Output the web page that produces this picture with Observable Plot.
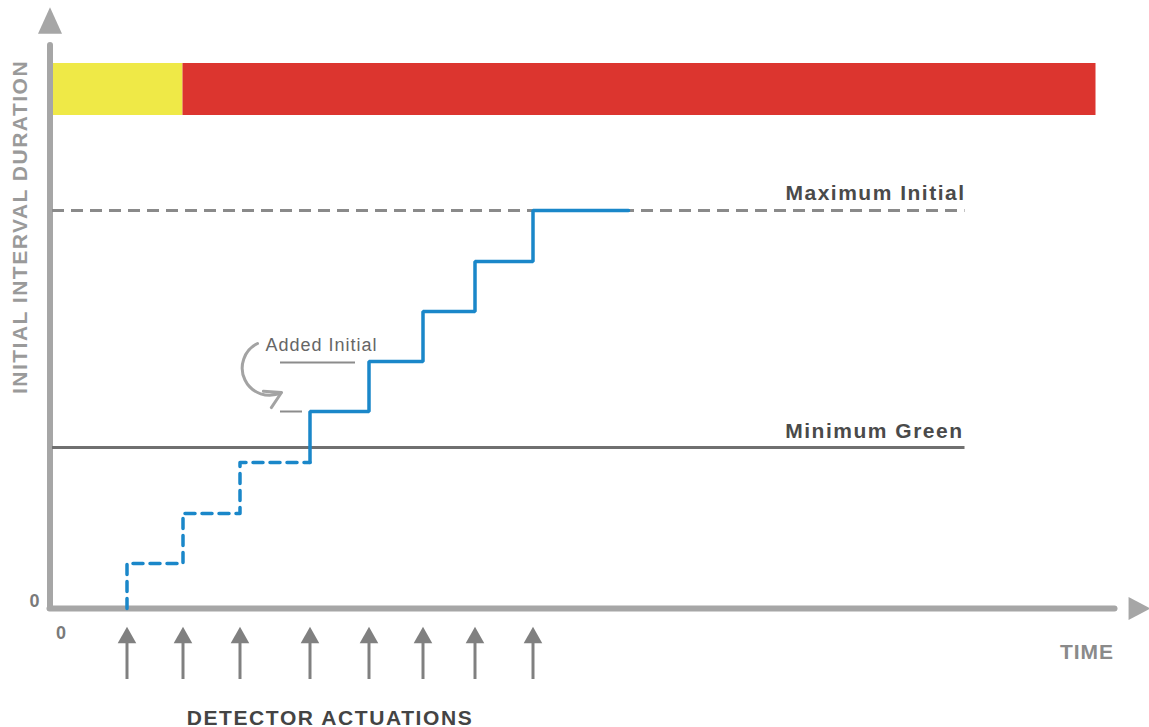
<!DOCTYPE html>
<html><head><meta charset="utf-8">
<script src="https://cdn.jsdelivr.net/npm/d3@7"></script>
<script src="https://cdn.jsdelivr.net/npm/@observablehq/plot@0.6"></script>
<style>html,body{margin:0;padding:0;background:#fff;} svg{display:block}</style>
</head><body><div id="chart"></div>
<script>
// ---- data (time units on x, duration units on y) ----
const actuations = [7.7, 13.3, 19.0, 26.0, 31.9, 37.3, 42.5, 48.3];
const initialLevels = [4.5, 9.5, 14.6, 19.7, 24.7, 29.7, 34.7, 39.8];
const minimumGreen = 16.1;
const maximumInitial = 39.8;
const maxHoldEnd = 57.85;
const referenceEnd = 91.5;
const phases = [
  {name: "yellow", start: 0.25, end: 13.3},
  {name: "red", start: 13.3, end: 104.6}
];
const phaseBand = [49.3, 54.5];
const addedInitialMarks = [
  {level: 19.7, start: 23.05, end: 25.25},
  {level: 24.6, start: 23.05, end: 30.55}
];
const addedInitialArrow = [{x1: 20.75, y1: 26.5, x2: 23.15, y2: 21.6}];
const yAxisTop = 56.3, xAxisEnd = 106.5;

const blue = "#1a87c9";
const font = "'Liberation Sans', Arial, Helvetica, sans-serif";

// step path: dashed while below minimum green, solid after
const firstSolid = initialLevels.findIndex(v => v > minimumGreen);
const dashed = [];
let prev = 0;
for (let i = 0; i < firstSolid; i++) {
  dashed.push({t: actuations[i], d: prev}, {t: actuations[i], d: initialLevels[i]});
  prev = initialLevels[i];
}
dashed.push({t: actuations[firstSolid], d: prev});
const solid = [];
for (let i = firstSolid; i < actuations.length; i++) {
  solid.push({t: actuations[i], d: prev}, {t: actuations[i], d: initialLevels[i]});
  prev = initialLevels[i];
}
solid.push({t: maxHoldEnd, d: prev});

function arrowHead(ratio) {
  return {draw(ctx, size) {
    const r = Math.sqrt(size / Math.PI), h = r * ratio;
    ctx.moveTo(0, -h); ctx.lineTo(r, h); ctx.lineTo(-r, h); ctx.closePath();
  }};
}

const chart = Plot.plot({
  width: 1149, height: 727, margin: 0,
  x: {domain: [0, 105], range: [49.5, 1099.5], axis: null},
  y: {domain: [0, 55], range: [608, 58], axis: null},
  style: {fontFamily: font, background: "#fff"},
  marks: [
    Plot.rect(phases, {x1: "start", x2: "end", y1: phaseBand[0], y2: phaseBand[1],
      fill: d => d.name === "yellow" ? "#efe947" : "#dc352f"}),
    // axes
    Plot.ruleX([0], {y1: 0, y2: yAxisTop, stroke: "#a6a6a6", strokeWidth: 6, strokeLinecap: "round"}),
    Plot.ruleY([0], {x1: 0, x2: xAxisEnd, stroke: "#a6a6a6", strokeWidth: 6, strokeLinecap: "round"}),
    Plot.dot([{x: 0, y: 58.8}], {x: "x", y: "y", r: 12, symbol: arrowHead(1.1), fill: "#a6a6a6", stroke: null}),
    Plot.dot([{x: 108.95, y: 0}], {x: "x", y: "y", r: 11.5, symbol: arrowHead(0.95), rotate: 90, fill: "#a6a6a6", stroke: null}),
    // reference lines
    Plot.ruleY([maximumInitial], {x1: 0.25, x2: referenceEnd, stroke: "#8a8a8a", strokeWidth: 3, strokeDasharray: "12,7"}),
    Plot.ruleY([minimumGreen], {x1: 0.25, x2: referenceEnd, stroke: "#707070", strokeWidth: 3}),
    // steps
    Plot.line(dashed, {x: "t", y: "d", stroke: blue, strokeWidth: 3.5, strokeDasharray: "10,7"}),
    Plot.line(solid, {x: "t", y: "d", stroke: blue, strokeWidth: 3.5, strokeLinejoin: "miter"}),
    // added initial annotation
    Plot.ruleY(addedInitialMarks, {y: "level", x1: "start", x2: "end", stroke: "#8c8c8c", strokeWidth: 2}),
    Plot.arrow(addedInitialArrow, {x1: "x1", y1: "y1", x2: "x2", y2: "y2", bend: -90, stroke: "#a3a3a3", strokeWidth: 3, headLength: 10}),
    Plot.text(["Added Initial"], {x: 21.55, y: 25.8, textAnchor: "start", lineAnchor: "bottom", fontSize: 18, fill: "#666"}),
    // labels
    Plot.text(["Maximum Initial"], {x: 91.55, y: 40.9, textAnchor: "end", lineAnchor: "bottom", fontSize: 21, fontWeight: "bold", fill: "#4a4a4a"}),
    Plot.text(["Minimum Green"], {x: 91.35, y: 17.1, textAnchor: "end", lineAnchor: "bottom", fontSize: 21, fontWeight: "bold", fill: "#4a4a4a"}),
    // detector actuations
    Plot.ruleX(actuations, {y1: -3.4, y2: -7.1, stroke: "#808080", strokeWidth: 3}),
    Plot.dot(actuations, {x: d => d, y: -2.65, r: 9.3, symbol: arrowHead(0.9), fill: "#808080", stroke: null}),
    // axis texts
    Plot.text(["INITIAL INTERVAL DURATION"], {x: -3.0, y: 38.15, rotate: -90, textAnchor: "middle", lineAnchor: "middle", fontSize: 21, fontWeight: "bold", fill: "#9a9a9a"}),
    Plot.text(["0"], {x: -1.55, y: 0.2, textAnchor: "middle", lineAnchor: "bottom", fontSize: 18, fontWeight: "bold", fill: "#7a7a7a"}),
    Plot.text(["0"], {x: 1.1, y: -3.0, textAnchor: "middle", lineAnchor: "bottom", fontSize: 18, fontWeight: "bold", fill: "#7a7a7a"}),
    Plot.text(["TIME"], {x: 103.7, y: -5.0, textAnchor: "middle", lineAnchor: "bottom", fontSize: 21, fontWeight: "bold", fill: "#8a8a8a"}),
    Plot.text(["DETECTOR ACTUATIONS"], {x: 28.0, y: -11.6, textAnchor: "middle", lineAnchor: "bottom", fontSize: 21, fontWeight: "bold", fill: "#444"})
  ]
});

const spacing = {"Maximum Initial": 1.5, "Minimum Green": 1.5, "INITIAL INTERVAL DURATION": 1.5,
  "DETECTOR ACTUATIONS": 1.6, "TIME": 1, "Added Initial": 1};
d3.select(chart).selectAll("text").each(function() {
  const s = spacing[this.textContent];
  if (s) this.setAttribute("letter-spacing", s);
});
document.getElementById("chart").appendChild(chart);
</script></body></html>
